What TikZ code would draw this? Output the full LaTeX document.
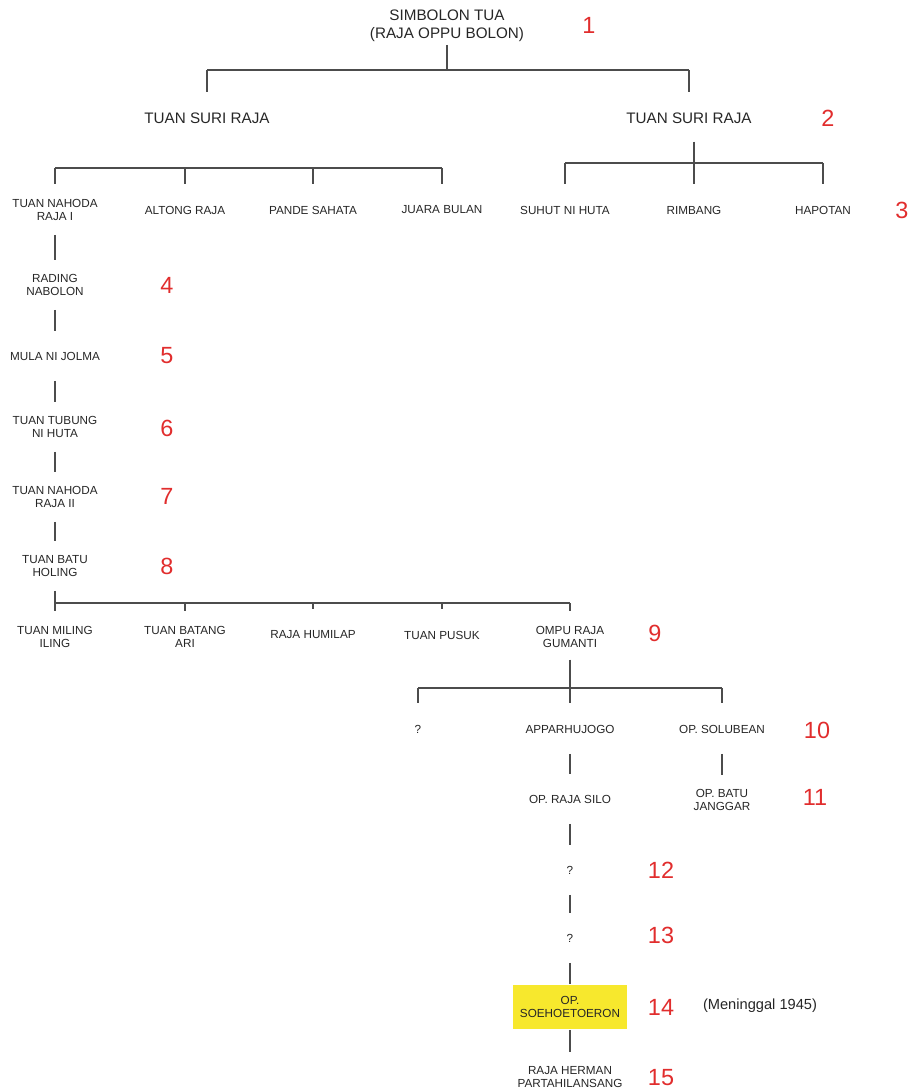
\documentclass[tikz,border=0pt]{standalone}
\usepackage{fontspec}
\setmainfont{Liberation Sans}
\usepackage{tikz}
\definecolor{genred}{RGB}{225,45,45}
\definecolor{hilite}{RGB}{247,232,45}

\begin{document}
\begin{tikzpicture}[x=0.03cm,y=-0.03cm,line width=1pt,draw=black!70,text=black!85,
        big/.style={font=\fontsize{13}{15.5}\selectfont, align=center, inner sep=1pt},
        person/.style={font=\fontsize{10}{11}\selectfont, align=center, inner sep=1pt, minimum height=25.6pt},
        gen/.style={font=\fontsize{20}{20}\selectfont, text=genred},
        link/.style={shorten <=8pt, shorten >=8pt},
        tick/.style={shorten >=9pt}]
        \useasboundingbox (0,0) rectangle (910,1091);
        \node[big] (root) at (447,26) {SIMBOLON TUA\\(RAJA OPPU BOLON)};
        \node[big] (l2a) at (207,118) {TUAN SURI RAJA};
        \node[big] (l2b) at (689,118) {TUAN SURI RAJA};
        \node[person] (n3a) at (55,210) {TUAN NAHODA\\RAJA I};
        \node[person] (n3b) at (185,210) {ALTONG RAJA};
        \node[person] (n3c) at (313,210) {PANDE SAHATA};
        \node[person] (n3d) at (442,210) {JUARA BULAN};
        \node[person] (n3e) at (565,210) {SUHUT NI HUTA};
        \node[person] (n3f) at (694,210) {RIMBANG};
        \node[person] (n3g) at (823,210) {HAPOTAN};
        \node[person] (n4) at (55,285) {RADING\\NABOLON};
        \node[person] (n5) at (55,356) {MULA NI JOLMA};
        \node[person] (n6) at (55,427) {TUAN TUBUNG\\NI HUTA};
        \node[person] (n7) at (55,497) {TUAN NAHODA\\RAJA II};
        \node[person] (n8) at (55,566) {TUAN BATU\\HOLING};
        \node[person] (n9a) at (55,637) {TUAN MILING\\ILING};
        \node[person] (n9b) at (185,637) {TUAN BATANG\\ARI};
        \node[person] (n9c) at (313,635) {RAJA HUMILAP};
        \node[person] (n9d) at (442,635) {TUAN PUSUK};
        \node[person] (n9e) at (570,637) {OMPU RAJA\\GUMANTI};
        \node[person] (n10a) at (418,729) {?};
        \node[person] (n10b) at (570,729) {APPARHUJOGO};
        \node[person] (n10c) at (722,729) {OP. SOLUBEAN};
        \node[person] (n11a) at (570,799) {OP. RAJA SILO};
        \node[person] (n11b) at (722,800) {OP. BATU\\JANGGAR};
        \node[person] (n12) at (570,870) {?};
        \node[person] (n13) at (570,938) {?};
        \node[person, fill=hilite, minimum width=98pt, minimum height=38pt] (n14) at (570,1007) {OP.\\SOEHOETOERON};
        \node[person] (n15) at (570,1077) {RAJA HERMAN\\PARTAHILANSANG};
        \node[font=\fontsize{12.5}{14}\selectfont] (note) at (760,1006) {(Meninggal 1945)};
        \foreach \g/\gx/\gy in {1/589/25,2/828/118,3/902/210,4/167/285,5/167/356,6/167/428,7/167/496,8/167/566,
                9/655/633,10/817/730,11/815/797,12/661/870,13/661/935,14/661/1007,15/661/1078}
            \node[gen] (g\g) at (\gx,\gy) {\g};
        \coordinate (j1) at (447,70);
        \draw[shorten <=1pt] (root) -- (j1);
        \draw (j1 -| l2a) -- (j1 -| l2b);
        \foreach \c in {l2a,l2b} \draw[shorten >=16pt] (\c |- j1) -- (\c);
        \coordinate (j2a) at (55,168);
        \draw (j2a) -- (j2a -| n3d);
        \foreach \c in {n3a,n3b,n3c,n3d} \draw[tick] (\c |- j2a) -- (\c);
        \coordinate (j2b) at (694,163);
        \draw[shorten <=14pt] (j2b |- l2b.south) -- (j2b);
        \draw (j2b -| n3e) -- (j2b -| n3g);
        \foreach \c in {n3e,n3f,n3g} \draw[tick] (\c |- j2b) -- (\c);
        \foreach \a/\b in {n3a/n4,n4/n5,n5/n6,n6/n7,n7/n8} \draw[link] (\a) -- (\b);
        \coordinate (j8) at (55,603);
        \draw[shorten <=8pt] (n8) -- (j8);
        \draw (j8) -- (j8 -| n9e);
        \foreach \c in {n9a,n9b,n9c,n9d,n9e} \draw[tick] (\c |- j8) -- (\c);
        \coordinate (j9) at (570,688);
        \draw[shorten <=6pt] (n9e) -- (j9);
        \draw (j9 -| n10a) -- (j9 -| n10c);
        \foreach \c in {n10a,n10b,n10c} \draw[tick] (\c |- j9) -- (\c);
        \foreach \a/\b in {n10b/n11a,n10c/n11b,n11a/n12,n12/n13} \draw[link] (\a) -- (\b);
        \draw[shorten <=8pt] (n13) -- (n14);
        \draw[shorten >=8pt] (n14) -- (n15);
\end{tikzpicture}
\end{document}
